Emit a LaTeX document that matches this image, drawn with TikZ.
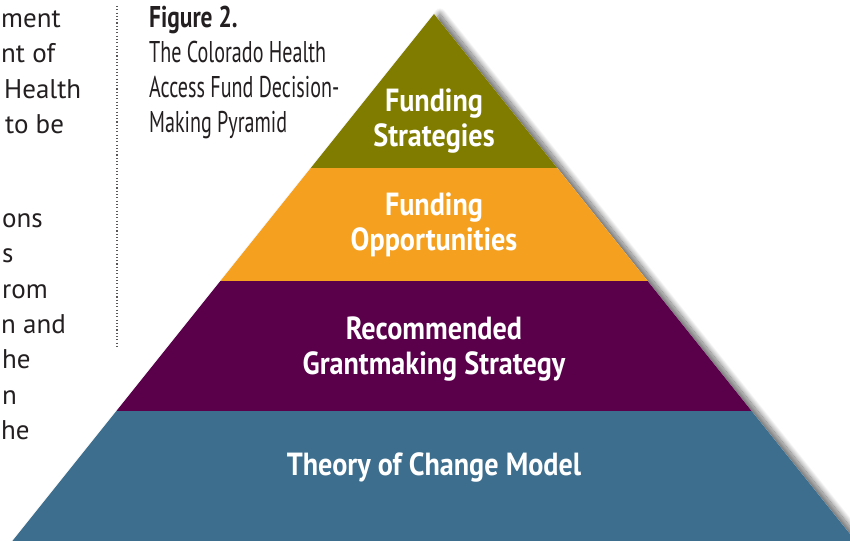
\documentclass[tikz,border=0pt]{standalone}
\usepackage{fontspec}
\usepackage{xcolor}
\usepackage{tikz}
\usetikzlibrary{shadows.blur}
\setmainfont{PT Sans}
\newfontfamily\condfont[FakeStretch=0.67]{PT Sans}
\newfontfamily\condboldfont[FakeStretch=0.78]{PT Sans Bold}
\newfontfamily\labfont[FakeStretch=0.88]{PT Sans Bold}
\definecolor{olivetop}{RGB}{128,124,0}
\definecolor{orangemid}{RGB}{245,161,31}
\definecolor{plummid}{RGB}{90,0,75}
\definecolor{bluebase}{RGB}{61,110,142}
\definecolor{inkgray}{RGB}{35,31,32}
\tikzset{
  layer/.style={draw=none},
  layerlabel/.style={text=white, align=center, font=\labfont\fontsize{32}{35}\selectfont},
  bodyline/.style={anchor=base west, text=inkgray, font=\fontsize{27}{35}\selectfont, inner sep=0pt},
  captionline/.style={anchor=base west, text=inkgray, font=\condfont\fontsize{30}{35}\selectfont, inner sep=0pt}
}

\begin{document}
\begin{tikzpicture}[x=1pt,y=-1pt]
  \useasboundingbox (0,0) rectangle (850,540);
  \clip (0,0) rectangle (850,540);

  \coordinate (apex) at (434,14);
  \coordinate (l1) at (310.8,168);  \coordinate (r1) at (557.2,168);
  \coordinate (l2) at (220.4,281);  \coordinate (r2) at (647.6,281);
  \coordinate (l3) at (116.4,411);  \coordinate (r3) at (751.6,411);
  \coordinate (l4) at (-2.8,560);   \coordinate (r4) at (870.8,560);

  \fill[white, blur shadow={shadow xshift=6pt, shadow yshift=0pt, shadow blur radius=6pt, shadow blur steps=16, shadow opacity=60}]
    (apex) -- (r4) -- (l4) -- cycle;

  \fill[layer, olivetop] (apex) -- (r1) -- (l1) -- cycle;
  \fill[layer, orangemid] (l1) -- (r1) -- (r2) -- (l2) -- cycle;
  \fill[layer, plummid] (l2) -- (r2) -- (r3) -- (l3) -- cycle;
  \fill[layer, bluebase] (l3) -- (r3) -- (r4) -- (l4) -- cycle;

  \node[layerlabel] (strategies) at (434,121) {Funding\\Strategies};
  \node[layerlabel] (opportunities) at (434,225) {Funding\\Opportunities};
  \node[layerlabel] (grantmaking) at (434,349) {Recommended\\Grantmaking Strategy};
  \node[layerlabel] (theory) at (434,467) {Theory of Change Model};

  \draw[inkgray!75, line width=1.1pt, dash pattern=on 1.1pt off 2.2pt] (117,6) -- (117,348);

  \node[captionline] (figno) at (149,28) {\condboldfont Figure 2.};
  \node[captionline] (cap1) at (149,63) {The Colorado Health};
  \node[captionline] (cap2) at (149,98) {Access Fund Decision-};
  \node[captionline] (cap3) at (149,133) {Making Pyramid};

  \node[bodyline] (b1) at (1,28) {ment};
  \node[bodyline] (b2) at (1,63) {nt of};
  \node[bodyline] (b3) at (4,99) {Health};
  \node[bodyline] (b4) at (5,134) {to be};
  \node[bodyline] (b5) at (2,227) {ons};
  \node[bodyline] (b6) at (2,262) {s};
  \node[bodyline] (b7) at (2,298) {rom};
  \node[bodyline] (b8) at (1,333) {n and};
  \node[bodyline] (b9) at (2,368) {he};
  \node[bodyline] (b10) at (2,404) {n};
  \node[bodyline] (b11) at (1,439) {he};
\end{tikzpicture}
\end{document}
